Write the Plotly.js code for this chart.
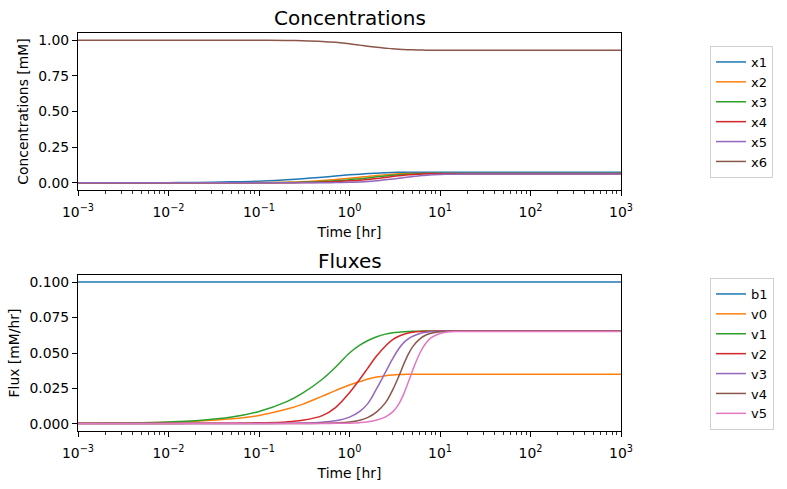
<!DOCTYPE html>
<html>
<head>
<meta charset="utf-8">
<script src="https://cdn.plot.ly/plotly-3.0.1.min.js"></script>
<style>
  html, body { margin: 0; padding: 0; background: #ffffff; }
  #chart { width: 787px; height: 489px; }
</style>
</head>
<body>
<div id="chart"></div>
<script>
// ---- Data ----
const time = [0.001, 0.002, 0.005, 0.01, 0.02, 0.05, 0.1, 0.2, 0.3, 0.5, 0.7, 1, 1.3, 1.6, 2, 2.5, 3, 3.5, 4, 4.5, 5, 6, 7, 8, 10, 12, 15, 20, 50, 100, 1000];

// Concentrations [mM]
const x1 = [0.0002, 0.0004, 0.0008, 0.0015, 0.003, 0.007, 0.012, 0.022, 0.029, 0.040, 0.048, 0.056, 0.061, 0.065, 0.068, 0.071, 0.073, 0.074, 0.0745, 0.075, 0.075, 0.075, 0.075, 0.075, 0.075, 0.075, 0.075, 0.075, 0.075, 0.075, 0.075];
const x2 = [0.0, 0.0, 0.0001, 0.0002, 0.0004, 0.001, 0.002, 0.005, 0.008, 0.016, 0.024, 0.033, 0.040, 0.045, 0.052, 0.057, 0.060, 0.063, 0.064, 0.065, 0.0655, 0.066, 0.066, 0.066, 0.066, 0.066, 0.066, 0.066, 0.066, 0.066, 0.066];
const x3 = [0.0, 0.0, 0.0, 0.0001, 0.0002, 0.0005, 0.001, 0.002, 0.004, 0.009, 0.015, 0.022, 0.029, 0.034, 0.042, 0.048, 0.053, 0.057, 0.059, 0.061, 0.062, 0.064, 0.065, 0.0655, 0.0655, 0.0655, 0.0655, 0.0655, 0.0655, 0.0655, 0.0655];
const x4 = [0.0, 0.0, 0.0, 0.0, 0.0001, 0.0002, 0.0004, 0.001, 0.002, 0.005, 0.009, 0.014, 0.019, 0.024, 0.031, 0.038, 0.045, 0.050, 0.053, 0.056, 0.058, 0.061, 0.063, 0.0635, 0.064, 0.064, 0.064, 0.064, 0.064, 0.064, 0.064];
const x5 = [0.0, 0.0, 0.0, 0.0, 0.0, 0.0, 0.0001, 0.0002, 0.0004, 0.001, 0.002, 0.004, 0.006, 0.009, 0.015, 0.021, 0.027, 0.032, 0.037, 0.041, 0.045, 0.050, 0.054, 0.056, 0.059, 0.060, 0.061, 0.062, 0.062, 0.062, 0.062];
const x6 = [1.0, 1.0, 1.0, 1.0, 1.0, 1.0, 0.9995, 0.998, 0.996, 0.991, 0.985, 0.975, 0.965, 0.957, 0.950, 0.944, 0.939, 0.936, 0.934, 0.933, 0.932, 0.931, 0.930, 0.930, 0.930, 0.930, 0.930, 0.930, 0.930, 0.930, 0.930];

// Fluxes [mM/hr]
const b1 = [0.1, 0.1, 0.1, 0.1, 0.1, 0.1, 0.1, 0.1, 0.1, 0.1, 0.1, 0.1, 0.1, 0.1, 0.1, 0.1, 0.1, 0.1, 0.1, 0.1, 0.1, 0.1, 0.1, 0.1, 0.1, 0.1, 0.1, 0.1, 0.1, 0.1, 0.1];
const v0 = [0.0004, 0.0005, 0.0008, 0.0012, 0.0019, 0.0036, 0.0060, 0.0103, 0.0138, 0.0196, 0.0235, 0.0274, 0.0298, 0.0316, 0.0330, 0.0340, 0.0345, 0.0348, 0.0349, 0.0350, 0.0350, 0.0350, 0.0350, 0.0350, 0.0350, 0.0350, 0.0350, 0.0350, 0.0350, 0.0350, 0.0350];
const v1 = [0.0005, 0.0006, 0.0009, 0.0014, 0.0023, 0.0048, 0.0088, 0.0155, 0.0215, 0.0315, 0.0400, 0.0500, 0.0555, 0.0588, 0.0615, 0.0633, 0.0642, 0.0647, 0.0650, 0.0652, 0.0653, 0.0654, 0.0655, 0.0655, 0.0655, 0.0655, 0.0655, 0.0655, 0.0655, 0.0655, 0.0655];
const v2 = [0.0003, 0.0003, 0.0003, 0.0003, 0.0004, 0.0005, 0.0008, 0.0014, 0.0025, 0.0058, 0.0115, 0.0220, 0.0315, 0.0395, 0.0480, 0.0550, 0.0595, 0.0618, 0.0632, 0.0641, 0.0646, 0.0651, 0.0653, 0.0654, 0.0655, 0.0655, 0.0655, 0.0655, 0.0655, 0.0655, 0.0655];
const v3 = [0.0003, 0.0003, 0.0003, 0.0003, 0.0003, 0.0003, 0.0003, 0.0004, 0.0006, 0.0012, 0.0022, 0.0048, 0.0088, 0.0145, 0.0250, 0.0365, 0.0460, 0.0530, 0.0575, 0.0602, 0.0618, 0.0637, 0.0646, 0.0650, 0.0654, 0.0655, 0.0655, 0.0655, 0.0655, 0.0655, 0.0655];
const v4 = [0.0003, 0.0003, 0.0003, 0.0003, 0.0003, 0.0003, 0.0003, 0.0003, 0.0003, 0.0005, 0.0007, 0.0013, 0.0026, 0.0046, 0.0085, 0.0150, 0.0240, 0.0335, 0.0425, 0.0495, 0.0545, 0.0600, 0.0627, 0.0640, 0.0650, 0.0653, 0.0655, 0.0655, 0.0655, 0.0655, 0.0655];
const v5 = [0.0003, 0.0003, 0.0003, 0.0003, 0.0003, 0.0003, 0.0003, 0.0003, 0.0003, 0.0003, 0.0004, 0.0005, 0.0009, 0.0015, 0.0028, 0.0050, 0.0085, 0.0140, 0.0215, 0.0300, 0.0380, 0.0500, 0.0570, 0.0608, 0.0638, 0.0648, 0.0652, 0.0652, 0.0652, 0.0652, 0.0652];

const concNames = ['x1', 'x2', 'x3', 'x4', 'x5', 'x6'];
const fluxNames = ['b1', 'v0', 'v1', 'v2', 'v3', 'v4', 'v5'];
const tickVals = [0.001, 0.01, 0.1, 1, 10, 100, 1000];
const tickText = ['10<sup>\u22123</sup>', '10<sup>\u22122</sup>', '10<sup>\u22121</sup>', '10<sup>0</sup>', '10<sup>1</sup>', '10<sup>2</sup>', '10<sup>3</sup>'];

// ---- Styling ----
const colors = ['#1f77b4', '#ff7f0e', '#2ca02c', '#d62728', '#9467bd', '#8c564b', '#e377c2'];
const FONT = 'DejaVu Sans, sans-serif';
const FS = 13.9;

const concSeries = [x1, x2, x3, x4, x5, x6];
const fluxSeries = [b1, v0, v1, v2, v3, v4, v5];

const traces = [];
concSeries.forEach((ys, i) => {
  traces.push({
    x: time, y: ys, name: concNames[i], type: 'scatter', mode: 'lines',
    line: { color: colors[i], width: 1.5, shape: 'spline', smoothing: 1 },
    xaxis: 'x', yaxis: 'y', legend: 'legend'
  });
});
fluxSeries.forEach((ys, i) => {
  traces.push({
    x: time, y: ys, name: fluxNames[i], type: 'scatter', mode: 'lines',
    line: { color: colors[i], width: 1.5, shape: 'spline', smoothing: 1 },
    xaxis: 'x2', yaxis: 'y2', legend: 'legend2'
  });
});

const mt = 33, mb = 58, H = 489;
const ph = H - mt - mb;
function py(pix) { return 1 - (pix - mt) / ph; }

function xax(anchor) {
  return {
    type: 'log', range: [-3, 3], anchor: anchor,
    tickmode: 'array', tickvals: tickVals, ticktext: tickText,
    ticks: 'outside', ticklen: 5, tickwidth: 1, tickcolor: '#000',
    ticklabelstandoff: 4,
    showline: true, linecolor: '#000', linewidth: 1, mirror: true,
    showgrid: false, zeroline: false,
    tickfont: { family: FONT, size: FS, color: '#000' },
    minor: { ticks: 'outside', ticklen: 3, tickwidth: 0.8, tickcolor: '#000', dtick: 'D1', showgrid: false },
    title: { text: 'Time [hr]', font: { family: FONT, size: FS, color: '#000' }, standoff: 8 },
    automargin: false
  };
}
function yax(anchor, range, dtick, fmt, title, dom) {
  return {
    domain: dom, anchor: anchor, range: range, dtick: dtick, tick0: 0, tickformat: fmt,
    ticks: 'outside', ticklen: 5, tickwidth: 1, tickcolor: '#000',
    showline: true, linecolor: '#000', linewidth: 1, mirror: true,
    showgrid: false, zeroline: false,
    tickfont: { family: FONT, size: FS, color: '#000' },
    title: { text: title, font: { family: FONT, size: FS, color: '#000' }, standoff: 6 },
    automargin: false
  };
}

const legendBase = {
  x: (710 - 78) / 543, xanchor: 'left', yanchor: 'top',
  bordercolor: '#d0d0d0', borderwidth: 1, bgcolor: 'rgba(255,255,255,0.8)',
  font: { family: FONT, size: 13, color: '#000' }, tracegroupgap: 0, itemwidth: 30
};

const layout = {
  width: 787, height: 489,
  margin: { l: 78, r: 166, t: mt, b: mb, pad: 0 },
  paper_bgcolor: '#ffffff', plot_bgcolor: '#ffffff',
  font: { family: FONT, size: FS, color: '#000' },
  showlegend: true,
  xaxis: xax('y'),
  yaxis: yax('x', [-0.05, 1.05], 0.25, '.2f', 'Concentrations [mM]', [py(190), 1]),
  xaxis2: xax('y2'),
  yaxis2: yax('x2', [-0.005, 0.105], 0.025, '.3f', 'Flux [mM/hr]', [0, py(275)]),
  legend: Object.assign({}, legendBase, { y: py(46) }),
  legend2: Object.assign({}, legendBase, { y: py(278) }),
  annotations: [
    { text: 'Concentrations', xref: 'paper', yref: 'paper', x: 0.5, y: py(18), xanchor: 'center', yanchor: 'middle', showarrow: false, font: { family: FONT, size: 20, color: '#000' } },
    { text: 'Fluxes', xref: 'paper', yref: 'paper', x: 0.5, y: py(261), xanchor: 'center', yanchor: 'middle', showarrow: false, font: { family: FONT, size: 20, color: '#000' } }
  ]
};

Plotly.newPlot('chart', traces, layout, { displayModeBar: false, staticPlot: true });
</script>
</body>
</html>
